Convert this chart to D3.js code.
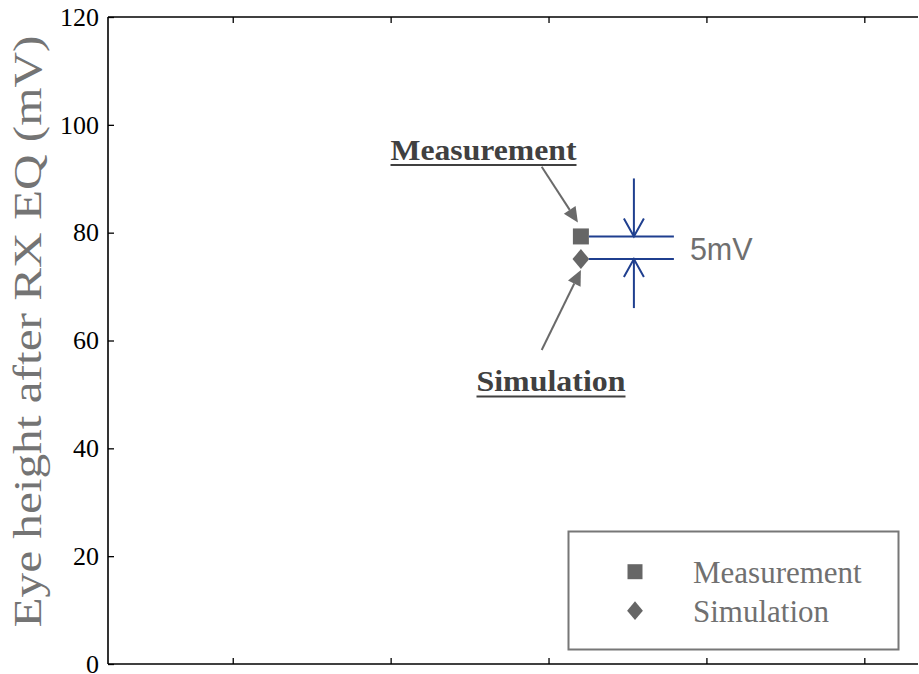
<!DOCTYPE html>
<html>
<head>
<meta charset="utf-8">
<script src="https://cdn.jsdelivr.net/npm/d3@7"></script>
<style>
  html, body { margin: 0; padding: 0; background: #fff; }
  svg { display: block; }
  .serif { font-family: "Liberation Serif", "Times New Roman", serif; }
  .sans { font-family: "Liberation Sans", Arial, sans-serif; }
</style>
</head>
<body>
<svg id="chart" width="919" height="674"></svg>
<script>
// ---- data ----
const seriesNames = ["Measurement", "Simulation"];
const seriesX = [3.205, 3.205];
const seriesY = [79.3, 75.1];
const yTicks = [0, 20, 40, 60, 80, 100, 120];
const xTicks = [1, 2, 3, 4, 5];
const xDomain = [0.21, 5.34];
const yDomain = [0, 120];
const yLabel = "Eye height after RX EQ (mV)";
const diffLabel = "5mV";

// ---- layout ----
const svg = d3.select("#chart");
const L = 108, R = 918, T = 17, B = 664;
const x = d3.scaleLinear().domain(xDomain).range([L, R]);
const y = d3.scaleLinear().domain(yDomain).range([B, T]);
const markerCol = "#666666";
const blue = "#1f3f8f";
const annCol = "#6a6a6a";

// axes
const gLeft = svg.append("g").attr("transform", `translate(${L},0)`)
  .call(d3.axisLeft(y).tickValues(yTicks).tickSize(-6).tickPadding(9).tickFormat(d3.format("d")));
const gBottom = svg.append("g").attr("transform", `translate(0,${B})`)
  .call(d3.axisBottom(x).tickValues(xTicks).tickSize(-6).tickFormat(""));
const gTop = svg.append("g").attr("transform", `translate(0,${T})`)
  .call(d3.axisTop(x).tickValues(xTicks).tickSize(-6).tickFormat(""));
[gLeft, gBottom, gTop].forEach(g => {
  g.attr("font-family", null);
  g.select(".domain").attr("stroke", "#000").attr("stroke-width", 1.6);
  g.selectAll(".tick line").attr("stroke", "#000").attr("stroke-width", 1.3);
});
gLeft.selectAll(".tick text")
  .attr("class", "serif")
  .style("font-size", "26px").attr("fill", "#000");
[gBottom, gTop].forEach(g => g.select(".domain").attr("d", `M${L},0H${R}`));
gLeft.select(".domain").attr("d", `M0,${T}V${B}`);

// y label
svg.append("text")
  .attr("class", "serif")
  .attr("transform", `translate(41,${(35 + 628) / 2}) rotate(-90)`)
  .attr("text-anchor", "middle")
  .style("font-size", "40px")
  .attr("fill", "#747474")
  .attr("textLength", 592).attr("lengthAdjust", "spacingAndGlyphs")
  .text(yLabel);

// marker shapes
function markerPath(type, s) {
  if (type === 0) return `M${-s},${-s}H${s}V${s}H${-s}Z`;
  const h = s * 1.25, w = s * 1.05;
  return `M0,${-h}L${w},0L0,${h}L${-w},0Z`;
}

// blue difference indicator
const mx = x(seriesX[0]), myM = y(seriesY[0]), myS = y(seriesY[1]);
const bx0 = mx + 8, bx1 = mx + 93, ax = mx + 53;
svg.append("line").attr("x1", bx0).attr("x2", bx1).attr("y1", myM).attr("y2", myM)
  .attr("stroke", blue).attr("stroke-width", 2);
svg.append("line").attr("x1", bx0).attr("x2", bx1).attr("y1", myS).attr("y2", myS)
  .attr("stroke", blue).attr("stroke-width", 2);
svg.append("line").attr("x1", ax).attr("x2", ax).attr("y1", myM - 58).attr("y2", myM)
  .attr("stroke", blue).attr("stroke-width", 2);
svg.append("path").attr("d", `M${ax - 10},${myM - 18}L${ax},${myM}L${ax + 10},${myM - 18}`)
  .attr("fill", "none").attr("stroke", blue).attr("stroke-width", 2);
svg.append("line").attr("x1", ax).attr("x2", ax).attr("y1", myS).attr("y2", myS + 49)
  .attr("stroke", blue).attr("stroke-width", 2);
svg.append("path").attr("d", `M${ax - 10},${myS + 18}L${ax},${myS}L${ax + 10},${myS + 18}`)
  .attr("fill", "none").attr("stroke", blue).attr("stroke-width", 2);
svg.append("text").attr("class", "sans").attr("x", mx + 109).attr("y", myS + 1)
  .style("font-size", "30.5px").attr("fill", "#6f6f6f")
  .text(diffLabel);

// data markers
svg.selectAll("path.pt").data(seriesY).join("path")
  .attr("class", "pt")
  .attr("transform", (d, i) => `translate(${x(seriesX[i])},${y(d)})`)
  .attr("d", (d, i) => markerPath(i, 8))
  .attr("fill", markerCol);

// annotation arrows
function arrow(x1, y1, x2, y2) {
  const ang = Math.atan2(y2 - y1, x2 - x1);
  const len = 15, hw = 7;
  const bx = x2 - len * Math.cos(ang), by = y2 - len * Math.sin(ang);
  svg.append("line").attr("x1", x1).attr("y1", y1).attr("x2", bx).attr("y2", by)
    .attr("stroke", annCol).attr("stroke-width", 2);
  const px = -Math.sin(ang) * hw, py = Math.cos(ang) * hw;
  svg.append("path")
    .attr("d", `M${x2},${y2}L${bx + px},${by + py}L${bx - px},${by - py}Z`)
    .attr("fill", annCol);
}
arrow(541.7, 166.7, mx - 3, myM - 14);
arrow(541.7, 350, mx, myS + 11);

// annotation labels
function annLabel(txt, x0, base, len) {
  svg.append("text").attr("class", "serif").attr("x", x0).attr("y", base)
    .style("font-weight", "bold").style("font-size", "30px")
    .attr("fill", "#404040")
    .attr("textLength", len).attr("lengthAdjust", "spacingAndGlyphs")
    .text(txt);
  svg.append("line").attr("x1", x0).attr("x2", x0 + len)
    .attr("y1", base + 5.5).attr("y2", base + 5.5)
    .attr("stroke", "#404040").attr("stroke-width", 2.2);
}
annLabel(seriesNames[0], 390.5, 159.5, 186);
annLabel(seriesNames[1], 476.5, 391, 149);

// legend
const lg = svg.append("g");
lg.append("rect").attr("x", 568.5).attr("y", 531.5).attr("width", 330).attr("height", 118)
  .attr("fill", "#fff").attr("stroke", "#777").attr("stroke-width", 2);
seriesNames.forEach((name, i) => {
  const cy = 571.7 + i * 39;
  lg.append("path").attr("transform", `translate(635,${cy})`)
    .attr("d", markerPath(i, 7.5)).attr("fill", markerCol);
  lg.append("text").attr("class", "serif").attr("x", 693).attr("y", cy + 11)
    .style("font-size", "31px").attr("fill", "#707070")
    .text(name);
});
</script>
</body>
</html>
